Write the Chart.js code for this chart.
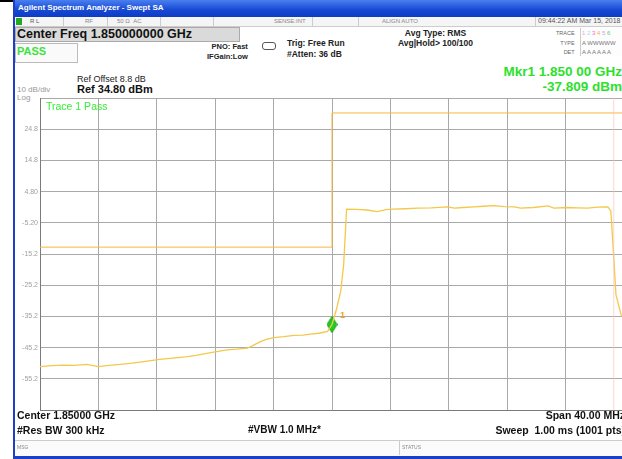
<!DOCTYPE html>
<html lang="en">
<head>
<meta charset="UTF-8">
<title>Swept SA</title>
<script src="https://cdn.jsdelivr.net/npm/chart.js"></script>
<style>
  body { margin: 0; width: 622px; height: 459px; overflow: hidden; background: #fff; font-family: "Liberation Sans", Arial, sans-serif; position: relative; }
  .a { position: absolute; white-space: nowrap; }
  .b { font-weight: bold; }
  .tiny { font-size: 6px; color: #888; }
  #chartBox { position: absolute; left: 13px; top: 90px; }
</style>
</head>
<body>
<div class="a" style="left:0;top:0;width:14px;height:2px;background:#000"></div>
<div class="a" style="left:13px;top:0;width:2px;height:459px;background:#1c3fc9"></div>
<div class="a" style="left:13px;top:456px;width:609px;height:3px;background:#1c3fc9"></div>
<div class="a" style="left:15px;top:0;width:607px;height:17px;background:linear-gradient(#4a7ff0,#1547d2 60%,#0d3cc4)"></div>
<div class="a b" style="left:18px;top:3px;font-size:8px;color:#fff">Agilent Spectrum Analyzer - Swept SA</div>

<div class="a" style="left:15px;top:17px;width:607px;height:9px;background:#f5f5f5;border-bottom:1px solid #ccc"></div>
<div class="a" style="left:16px;top:18px;width:6px;height:7px;background:#2a2;"></div>
<div class="a tiny" style="left:30px;top:18px;color:#555">R L</div>
<div class="a tiny" style="left:85px;top:18px">RF</div>
<div class="a tiny" style="left:117px;top:18px">50 Ω &nbsp;AC</div>
<div class="a tiny" style="left:274px;top:18px">SENSE:INT</div>
<div class="a tiny" style="left:382px;top:18px">ALIGN AUTO</div>
<div class="a" style="left:538px;top:17px;font-size:7px;color:#555">09:44:22 AM Mar 15, 2018</div>
<div class="a" style="left:63px;top:17px;width:1px;height:9px;background:#ccc"></div>
<div class="a" style="left:107px;top:17px;width:1px;height:9px;background:#ccc"></div>
<div class="a" style="left:160px;top:17px;width:1px;height:9px;background:#ccc"></div>
<div class="a" style="left:213px;top:17px;width:1px;height:9px;background:#ccc"></div>
<div class="a" style="left:312px;top:17px;width:1px;height:9px;background:#ccc"></div>
<div class="a" style="left:358px;top:17px;width:1px;height:9px;background:#ccc"></div>
<div class="a" style="left:535px;top:17px;width:1px;height:9px;background:#ccc"></div>

<div class="a" style="left:15px;top:27px;width:223px;height:13px;background:#dadada;border:1px solid #aaa"></div>
<div class="a b" style="left:17px;top:27px;font-size:12.5px;color:#111">Center Freq 1.850000000 GHz</div>
<div class="a" style="left:15px;top:43px;width:61px;height:18px;background:#fafafa;border:1px solid #bbb"></div>
<div class="a b" style="left:17px;top:45px;font-size:11px;color:#3ee23e">PASS</div>

<div class="a b" style="left:207px;top:42px;font-size:7.5px;color:#222;text-align:right;line-height:10px">PNO: Fast<br>IFGain:Low</div>
<div class="a" style="left:262px;top:42px;width:12px;height:6px;border:1px solid #555;border-radius:3px"></div>
<div class="a b" style="left:287px;top:38px;font-size:8.5px;color:#222;line-height:11px">Trig: Free Run<br>#Atten: 36 dB</div>
<div class="a b" style="left:398px;top:28px;font-size:8.5px;color:#222;line-height:10px;text-align:center">Avg Type: RMS<br>Avg|Hold&gt; 100/100</div>
<div class="a" style="left:556px;top:29px;font-size:5.5px;color:#666;line-height:9.5px;text-align:right">TRACE<br>TYPE<br>DET</div>
<div class="a" style="left:580px;top:28px;width:44px;height:28px;border-left:1px solid #ccc;background:#fdfdfd"></div>
<div class="a" style="left:582px;top:29px;font-size:6px;line-height:9.5px;color:#777"><span style="color:#f9c">1</span> <span style="color:#9df">2</span> <span style="color:#f6c">3</span> <span style="color:#fa5">4</span> <span style="color:#aaf">5</span> <span style="color:#6c6">6</span><br>A WWWWW<br>A A A A A A</div>

<div class="a b" style="right:0;top:64px;font-size:13.5px;color:#2de02d;text-align:right">Mkr1 1.850 00 GHz</div>
<div class="a b" style="right:0;top:79px;font-size:13.5px;color:#2de02d;text-align:right">-37.809 dBm</div>

<div class="a" style="left:77px;top:74px;font-size:9px;color:#222">Ref Offset 8.8 dB</div>
<div class="a b" style="left:77px;top:83px;font-size:11px;color:#111">Ref 34.80 dBm</div>
<div class="a" style="left:17px;top:85px;font-size:8px;color:#999">10 dB/div</div>
<div class="a" style="left:17px;top:93px;font-size:8px;color:#999">Log</div>

<div id="chartBox"><canvas id="saChart" width="618" height="327"></canvas></div>
<div class="a" style="left:46px;top:100px;font-size:10.5px;color:#38ec38">Trace 1 Pass</div>

<div class="a b" style="left:17px;top:409px;font-size:10.5px;color:#111">Center 1.85000 GHz</div>
<div class="a b" style="left:17px;top:424px;font-size:10.5px;color:#111">#Res BW 300 kHz</div>
<div class="a b" style="left:248px;top:424px;font-size:10px;color:#111">#VBW 1.0 MHz*</div>
<div class="a b" style="right:-3px;top:409px;font-size:10.5px;color:#111">Span 40.00 MHz</div>
<div class="a b" style="right:-3px;top:424px;font-size:10.5px;color:#111">Sweep &nbsp;1.00 ms (1001 pts)</div>

<div class="a" style="left:15px;top:440px;width:607px;height:15px;background:#fbfbfb;border-top:1px solid #ccc"></div>
<div class="a tiny" style="left:17px;top:444px;font-size:5px">MSG</div>
<div class="a" style="left:399px;top:441px;width:1px;height:14px;background:#ccc"></div>
<div class="a tiny" style="left:402px;top:444px;font-size:5px">STATUS</div>

<script>
// trace 1 (MHz, dBm)
var freqMHz = [1830.0, 1830.8, 1831.6, 1832.4, 1833.2, 1834.0, 1834.7, 1835.5, 1836.3, 1837.1,
    1838.2, 1839.1, 1840.1, 1840.8, 1841.5, 1842.2, 1842.8, 1843.5, 1844.2, 1844.6,
    1845.1, 1845.5, 1846.0, 1846.7, 1847.4, 1848.0, 1848.5, 1849.1, 1849.7, 1850.0,
    1850.3, 1850.6, 1850.8, 1851.0, 1851.7, 1852.4, 1853.1, 1853.7, 1854.2, 1855.0,
    1855.9, 1856.8, 1857.9, 1858.4, 1859.0, 1859.7, 1860.4, 1861.1, 1861.8, 1862.5,
    1862.9, 1863.8, 1864.8, 1865.2, 1866.1, 1866.8, 1867.5, 1868.2, 1868.9, 1869.1,
    1869.2, 1869.45, 1869.8, 1870.0];
var traceDbm = [-51.3, -51.0, -50.8, -50.9, -50.6, -51.3, -50.9, -50.6, -50.2, -49.7,
    -49.0, -48.6, -48.1, -47.6, -47.0, -46.4, -45.9, -45.7, -45.4, -44.5,
    -43.3, -42.6, -42.0, -41.7, -41.3, -41.2, -40.9, -40.6, -40.0, -37.8,
    -33.0, -27.1, -18.5, -0.8, -0.9, -1.1, -1.6, -1.0, -0.8, -0.7,
    -0.5, -0.4, -0.1, -0.5, -0.3, -0.1, 0.1, 0.3, 0.0, -0.1,
    -0.5, -0.3, 0.2, -0.5, -0.3, -0.4, -0.5, -0.2, -0.1, -1.5,
    -8.9, -28.2, -34.7, -36.0];

// limit line
var limitFreq = [1830, 1850, 1850, 1870];
var limitDbm = [-13, -13, 30, 30];

// faint display line on the right
var edgeFreq = [1869.3, 1869.3];
var edgeDbm = [-65.2, 34.8];

var markerFreq = [1850.0];
var markerDbm = [-37.809];
var markerNames = ['1'];

var yTickLabels = ['', '-55.2', '-45.2', '-35.2', '-25.2', '-15.2', '-5.20', '4.80', '14.8', '24.8', ''];

function pts(xs, ys) {
    return xs.map(function (x, i) { return { x: x, y: ys[i] }; });
}

// tall green diamond for the marker
var diamond = document.createElement('canvas');
diamond.width = 11;
diamond.height = 17;
var dctx = diamond.getContext('2d');
dctx.beginPath();
dctx.moveTo(5.5, 0.5);
dctx.lineTo(10.5, 8.5);
dctx.lineTo(5.5, 16.5);
dctx.lineTo(0.5, 8.5);
dctx.closePath();
dctx.fillStyle = '#22cc22';
dctx.fill();
dctx.strokeStyle = '#129a12';
dctx.stroke();

var markerLabel = {
    id: 'markerLabel',
    afterDatasetsDraw: function (chart) {
        var c = chart.ctx;
        var xs = chart.scales.x, ys = chart.scales.y;
        c.save();
        c.font = 'bold 9px "Liberation Sans", Arial';
        c.fillStyle = '#f0a020';
        markerFreq.forEach(function (f, i) {
            c.fillText(markerNames[i], xs.getPixelForValue(f) + 8, ys.getPixelForValue(markerDbm[i]) - 7);
        });
        c.restore();
    }
};

var ctx = document.getElementById('saChart').getContext('2d');
var saChart = new Chart(ctx, {
    type: 'scatter',
    data: {
        datasets: [{
            label: 'Edge',
            data: pts(edgeFreq, edgeDbm),
            showLine: true,
            borderColor: 'rgba(250,200,185,0.7)',
            borderWidth: 1,
            pointRadius: 0
        }, {
            label: 'Limit',
            data: pts(limitFreq, limitDbm),
            showLine: true,
            borderColor: '#f6b640',
            borderWidth: 1,
            pointRadius: 0
        }, {
            label: 'Trace 1',
            data: pts(freqMHz, traceDbm),
            showLine: true,
            borderColor: '#f4c84a',
            borderWidth: 1.3,
            pointRadius: 0
        }, {
            label: 'Mkr1',
            data: pts(markerFreq, markerDbm),
            pointStyle: diamond,
            pointRadius: 6
        }]
    },
    options: {
        responsive: false,
        animation: false,
        layout: { padding: { top: 8, right: 2, bottom: 4, left: 0 } },
        plugins: { legend: { display: false }, tooltip: { enabled: false } },
        scales: {
            x: {
                type: 'linear',
                min: 1830,
                max: 1870,
                ticks: { display: false, stepSize: 4 },
                grid: { color: '#a9a9a9', drawTicks: false },
                border: { color: '#7a7a7a' },
                afterFit: function (s) { s.height = 0; }
            },
            y: {
                min: -65.2,
                max: 34.8,
                ticks: {
                    stepSize: 10,
                    padding: 2,
                    color: '#a0a0a0',
                    font: { family: '"Liberation Sans", Arial', size: 7 },
                    callback: function (v, i) { return yTickLabels[i]; }
                },
                grid: { color: '#a9a9a9', drawTicks: false },
                border: { color: '#7a7a7a' },
                afterFit: function (s) { s.width = 27; }
            }
        }
    },
    plugins: [markerLabel]
});
</script>
</body>
</html>
